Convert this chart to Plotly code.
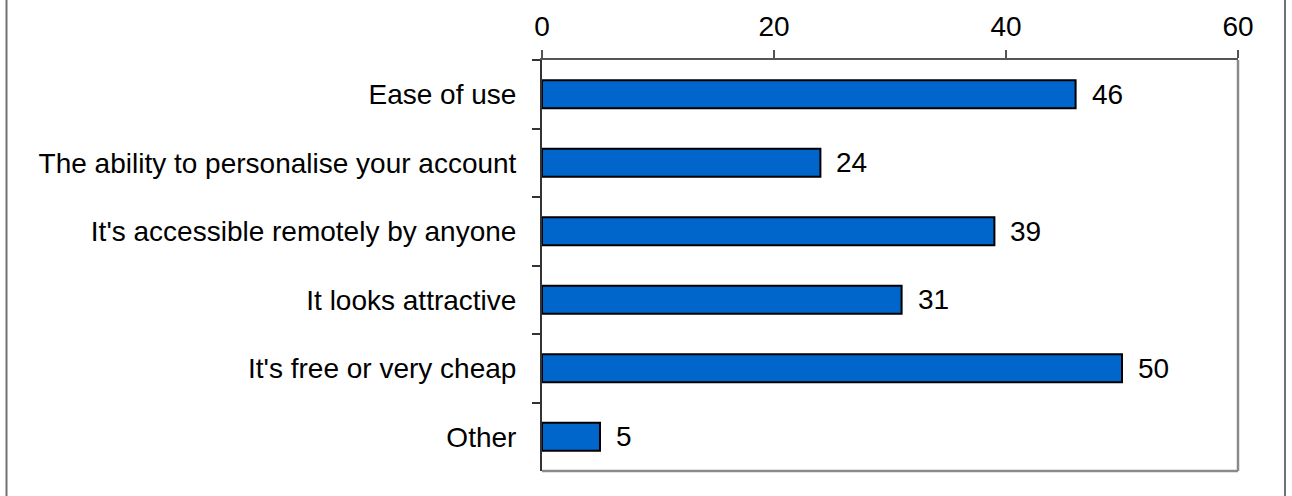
import plotly.graph_objects as go

# Survey responses: what people value most
categories = [
    "Ease of use",
    "The ability to personalise your account",
    "It's accessible remotely by anyone",
    "It looks attractive",
    "It's free or very cheap",
    "Other",
]
values = [46, 24, 39, 31, 50, 5]
x_ticks = [0, 20, 40, 60]

W, H = 1292, 496
L, R, T, B = 542, 54, 60, 25
FONT = "Liberation Sans, Arial, sans-serif"
FS = 28

fig = go.Figure(
    go.Bar(
        x=values,
        y=categories,
        orientation="h",
        marker=dict(color="#0066CC", line=dict(color="#000000", width=2)),
        width=0.41,
        hoverinfo="x+y",
    )
)

# value labels to the right of each bar
for c, v in zip(categories, values):
    fig.add_annotation(
        x=v, y=c, xref="x", yref="y", text=str(v), showarrow=False,
        xanchor="left", yanchor="middle", xshift=14,
        font=dict(family=FONT, size=FS, color="#000000"),
    )

def px_to_paper_x(px):
    return (px - L) / (W - L - R)

# plot frame right/bottom edges (grey) and outer vertical frame lines
fig.add_shape(type="line", xref="paper", yref="paper", x0=1, x1=1, y0=0, y1=1,
              line=dict(color="#8a8a8a", width=2.5))
fig.add_shape(type="line", xref="paper", yref="paper", x0=0, x1=1, y0=0, y1=0,
              line=dict(color="#8a8a8a", width=2.5))
for px in (6.5, 1285):
    fig.add_shape(type="line", xref="paper", yref="paper",
                  x0=px_to_paper_x(px), x1=px_to_paper_x(px), y0=-2, y1=2,
                  line=dict(color="#707070", width=2))

fig.update_layout(
    width=W, height=H,
    margin=dict(l=L, r=R, t=T, b=B, pad=0, autoexpand=False),
    paper_bgcolor="#ffffff", plot_bgcolor="#ffffff",
    showlegend=False,
    font=dict(family=FONT, size=FS, color="#000000"),
    xaxis=dict(
        side="top", range=[0, 60], tickvals=x_ticks, ticktext=[str(t) for t in x_ticks],
        showgrid=False, zeroline=False, automargin=False,
        showline=True, linecolor="#555555", linewidth=2,
        ticks="outside", ticklen=8, tickwidth=1.5, tickcolor="#555555",
        ticklabelstandoff=3,
        tickfont=dict(family=FONT, size=FS, color="#000000"),
    ),
    yaxis=dict(
        autorange="reversed", categoryorder="array", categoryarray=categories,
        showgrid=False, zeroline=False, automargin=False,
        showline=True, linecolor="#333333", linewidth=2,
        ticks="outside", ticklen=8, tickwidth=1.5, tickcolor="#333333",
        tickson="boundaries", ticklabelstandoff=18,
        tickfont=dict(family=FONT, size=FS, color="#000000"),
    ),
)

fig.write_html("out.html")
